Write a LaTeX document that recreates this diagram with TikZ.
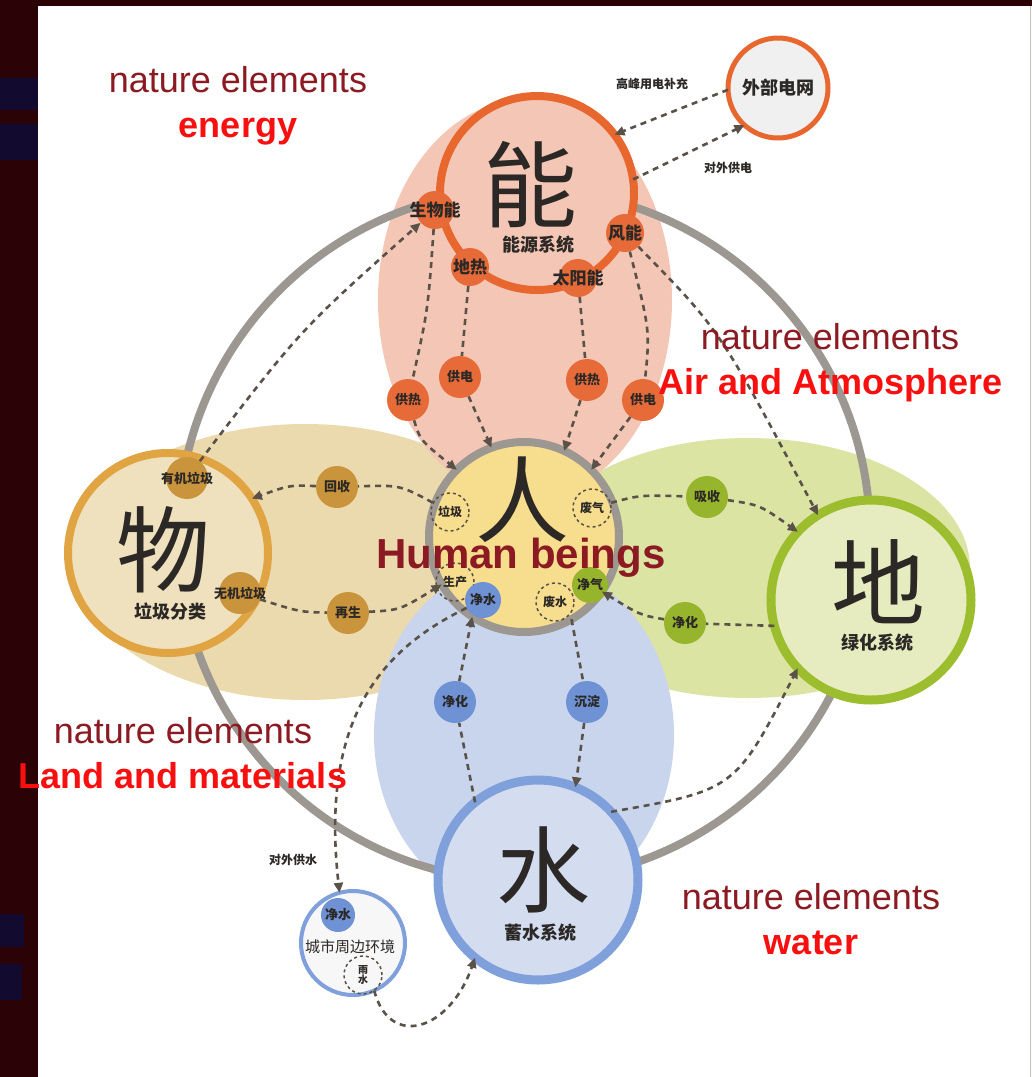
\documentclass[tikz,border=0pt]{standalone}
\usepackage{fontspec}
\setmainfont{Liberation Sans}
\newfontfamily\cjk{Noto Sans CJK SC}
\usetikzlibrary{arrows.meta}
\definecolor{fondSombre}{HTML}{2B0306}
\definecolor{bandeBleue}{HTML}{130A30}
\definecolor{rougeSombre}{HTML}{8C1A22}
\definecolor{rougeVif}{HTML}{F81010}
\definecolor{grisAnneau}{HTML}{9C9891}
\definecolor{roseEnergie}{HTML}{F3C6B5}
\definecolor{orangeEnergie}{HTML}{E8672F}
\definecolor{orangePastille}{HTML}{E76B38}
\definecolor{beigeMatiere}{HTML}{EBDAAE}
\definecolor{orMatiere}{HTML}{E0A443}
\definecolor{vertAir}{HTML}{DCE4A4}
\definecolor{vertAnneau}{HTML}{9CBE2E}
\definecolor{vertPastille}{HTML}{97B52C}
\definecolor{bleuEau}{HTML}{C9D5EC}
\definecolor{bleuAnneau}{HTML}{7FA0DB}
\definecolor{bleuPastille}{HTML}{6F92D4}
\definecolor{jauneHumain}{HTML}{F7DD8E}
\definecolor{encre}{HTML}{2B2826}
\definecolor{grisFleche}{HTML}{5A5148}
\newcommand{\libre}[1]{\makebox[0pt]{#1}}
\tikzset{
  anneau/.style={circle, inner sep=0pt, outer sep=0pt},
  anneauEnergie/.style={anneau, draw=orangeEnergie, fill=roseEnergie, line width=8pt, minimum size=194pt},
  anneauExterne/.style={anneau, draw=orangeEnergie, fill=gray!12, line width=5pt, minimum size=100pt},
  anneauMatiere/.style={anneau, draw=orMatiere, fill=beigeMatiere!80!white, line width=8pt, minimum size=200pt},
  anneauHumain/.style={anneau, draw=grisAnneau, fill=jauneHumain, line width=8pt, minimum size=190pt},
  anneauTerre/.style={anneau, draw=vertAnneau, fill=vertAir!70!white, line width=9pt, minimum size=200pt},
  anneauEau/.style={anneau, draw=bleuAnneau, fill=bleuEau!80!white, line width=9pt, minimum size=200pt},
  anneauVille/.style={anneau, draw=bleuAnneau, fill=gray!6, line width=4pt, minimum size=104pt},
  pastille/.style={circle, inner sep=0pt, minimum size=42pt, text=encre,
    font=\cjk\bfseries\fontsize{13}{13}\selectfont},
  pastilleOrange/.style={pastille, fill=orangePastille},
  pastilleOr/.style={pastille, fill=orMatiere!90!black},
  pastilleVerte/.style={pastille, fill=vertPastille},
  pastilleBleue/.style={pastille, fill=bleuPastille},
  grandePastille/.style={minimum size=38pt, font=\cjk\bfseries\fontsize{17}{17}\selectfont},
  bulle/.style={pastille, minimum size=38pt, draw=grisFleche, line width=1.5pt,
    dash pattern=on 3pt off 3pt, font=\cjk\bfseries\fontsize{12}{12}\selectfont},
  glyphe/.style={font=\cjk\fontsize{94}{94}\selectfont, text=encre, inner sep=0pt},
  sousTitre/.style={font=\cjk\bfseries\fontsize{18}{18}\selectfont, text=encre, inner sep=0pt},
  petitTexte/.style={font=\cjk\bfseries\fontsize{12}{12}\selectfont, text=encre, inner sep=0pt},
  natureTexte/.style={font=\fontsize{36}{40}\selectfont, text=rougeSombre, inner sep=0pt, anchor=base},
  elementTexte/.style={font=\bfseries\fontsize{36}{40}\selectfont, text=rougeVif, inner sep=0pt, anchor=base},
  humainTexte/.style={font=\bfseries\fontsize{42}{46}\selectfont, text=rougeSombre, inner sep=0pt, anchor=base},
  fleche/.style={draw=grisFleche, line width=2.6pt, dash pattern=on 6pt off 5pt,
    -{Triangle[length=10pt,width=9pt]}},
  trait/.style={fleche, -}
}
\begin{document}
\begin{tikzpicture}[x=1pt, y=-1pt]
  \useasboundingbox (0,0) rectangle (1032,1077);

  % --- Fond : bande sombre et page blanche
  \fill[fondSombre] (0,0) rectangle (1032,1077);
  \fill[bandeBleue] (0,78) rectangle (38,110);
  \fill[bandeBleue] (0,124) rectangle (38,160);
  \fill[bandeBleue] (0,914) rectangle (24,947);
  \fill[bandeBleue] (0,964) rectangle (22,1000);
  \fill[white] (38,6) rectangle (1032,1077);
  \draw[grisAnneau!60, line width=1pt] (1030,6) -- (1030,1077);

  % --- Grand cercle et zones des elements
  \fill[white] (524,535) circle[radius=346pt];
  \fill[beigeMatiere] (305,562) ellipse[x radius=230pt, y radius=138pt];
  \fill[vertAir] (748,568) ellipse[x radius=222pt, y radius=130pt];
  \fill[bleuEau] (524,735) ellipse[x radius=150pt, y radius=175pt];
  \fill[roseEnergie] (525,300) ellipse[x radius=147pt, y radius=200pt];
  \draw[grisAnneau, line width=8pt] (524,535) circle[radius=346pt];

  % --- Anneaux principaux
  \node[anneauEnergie] (N) at (537,193) {};
  \node[anneauExterne] (X) at (778,88)  {};
  \node[anneauMatiere] (M) at (168,553) {};
  \node[anneauHumain]  (H) at (524,537) {};
  \node[anneauTerre]   (D) at (871,600) {};
  \node[anneauEau]     (S) at (538,880) {};
  \node[anneauVille]   (C) at (353,943) {};

  \node[glyphe]    (Nt) at (530,185) {能};
  \node[sousTitre] (Ns) at (538,245) {能源系统};
  \node[sousTitre] (Xt) at (778,88)  {外部电网};
  \node[glyphe]    (Mt) at (163,550) {物};
  \node[sousTitre] (Ms) at (170,612) {垃圾分类};
  \node[glyphe]    (Ht) at (522,500) {人};
  \node[glyphe]    (Dt) at (878,582) {地};
  \node[sousTitre] (Ds) at (877,643) {绿化系统};
  \node[glyphe]    (St) at (543,870) {水};
  \node[sousTitre] (Ss) at (540,933) {蓄水系统};
  \node[sousTitre, font=\cjk\fontsize{15}{15}\selectfont] (Ct) at (350,947) {城市周边环境};

  % --- Pastilles
  \node[pastilleOrange, grandePastille] (N1) at (435,210) {\libre{生物能}};
  \node[pastilleOrange, grandePastille] (N2) at (625,233) {\libre{风能}};
  \node[pastilleOrange, grandePastille] (N3) at (470,267) {\libre{地热}};
  \node[pastilleOrange, grandePastille] (N4) at (578,278) {\libre{太阳能}};
  \node[pastilleOrange] (P1) at (408,400) {供热};
  \node[pastilleOrange] (P2) at (460,377) {供电};
  \node[pastilleOrange] (P3) at (587,380) {供热};
  \node[pastilleOrange] (P4) at (643,400) {供电};

  \node[pastilleOr] (W1) at (187,478) {\libre{有机垃圾}};
  \node[pastilleOr] (W2) at (240,593) {\libre{无机垃圾}};
  \node[pastilleOr] (W3) at (337,487) {回收};
  \node[pastilleOr] (W4) at (348,613) {再生};

  \node[bulle] (H1) at (450,512) {垃圾};
  \node[bulle] (H2) at (592,508) {废气};
  \node[bulle] (H3) at (455,582) {生产};
  \node[pastilleBleue, minimum size=36pt] (H4) at (483,600) {净水};
  \node[pastilleVerte, minimum size=36pt] (H5) at (590,585) {净气};
  \node[bulle] (H6) at (555,602) {废水};

  \node[pastilleVerte] (D1) at (707,497) {吸收};
  \node[pastilleVerte] (D2) at (685,623) {净化};
  \node[pastilleBleue] (S1) at (455,702) {净化};
  \node[pastilleBleue] (S2) at (587,702) {沉淀};

  \node[pastilleBleue, minimum size=34pt] (C1) at (338,915) {净水};
  \node[bulle, align=center, font=\cjk\bfseries\fontsize{10}{10}\selectfont] (C2) at (363,975) {雨\\水};

  % --- Energie
  \node[petitTexte] (tX1) at (652,84)  {高峰用电补充};
  \node[petitTexte] (tX2) at (728,168) {对外供电};
  \draw[fleche] (X.182) -- (N.37);
  \draw[fleche] (N.8) -- (X.228);
  \draw[trait]  (N1) .. controls (428,310) .. (P1);
  \draw[fleche] (P1) .. controls (420,440) .. (H.135);
  \draw[trait]  (N3) -- (P2);
  \draw[fleche] (P2) -- (H.110);
  \draw[trait]  (N4) -- (P3);
  \draw[fleche] (P3) -- (H.65);
  \draw[trait]  (N2) .. controls (650,330) .. (P4);
  \draw[fleche] (P4) -- (H.45);
  \draw[fleche] (N2) .. controls (720,330) .. (D.122);

  % --- Matieres
  \draw[fleche] (W1) .. controls (300,330) .. (N1);
  \draw[trait]  (H1) .. controls (400,485) .. (W3);
  \draw[fleche] (W3) .. controls (290,485) .. (M.33);
  \draw[trait]  (W2) .. controls (300,612) .. (W4);
  \draw[fleche] (W4) .. controls (400,610) .. (H.210);

  % --- Air
  \draw[trait]  (H2) .. controls (640,495) .. (D1);
  \draw[fleche] (D1) .. controls (760,505) .. (D.137);
  \draw[trait]  (D.195) .. controls (740,625) .. (D2);
  \draw[fleche] (D2) .. controls (640,615) .. (H.325);

  % --- Eau
  \draw[trait]  (S.129) -- (S1);
  \draw[fleche] (S1) -- (H.237);
  \draw[trait]  (H.300) -- (S2);
  \draw[fleche] (S2) -- (S.68);
  \draw[fleche] (S.43) .. controls (735,790) .. (D.223);
  \draw[fleche] (H4) .. controls (380,650) and (320,720) .. (C.105);
  \node[petitTexte] (tC) at (293,860) {对外供水};
  \draw[fleche] (C.294) .. controls (390,1050) and (450,1030) .. (S.231);

  % --- Libelles
  \node[natureTexte]  (eA) at (238,92)  {nature elements};
  \node[elementTexte] (eB) at (238,137) {energy};
  \node[natureTexte]  (aA) at (830,349) {nature elements};
  \node[elementTexte] (aB) at (831,394) {Air and Atmosphere};
  \node[natureTexte]  (lA) at (183,743) {nature elements};
  \node[elementTexte] (lB) at (183,788) {Land and materials};
  \node[natureTexte]  (wA) at (811,909) {nature elements};
  \node[elementTexte] (wB) at (811,954) {water};
  \node[humainTexte]  (hB) at (521,568) {Human beings};

\end{tikzpicture}
\end{document}
